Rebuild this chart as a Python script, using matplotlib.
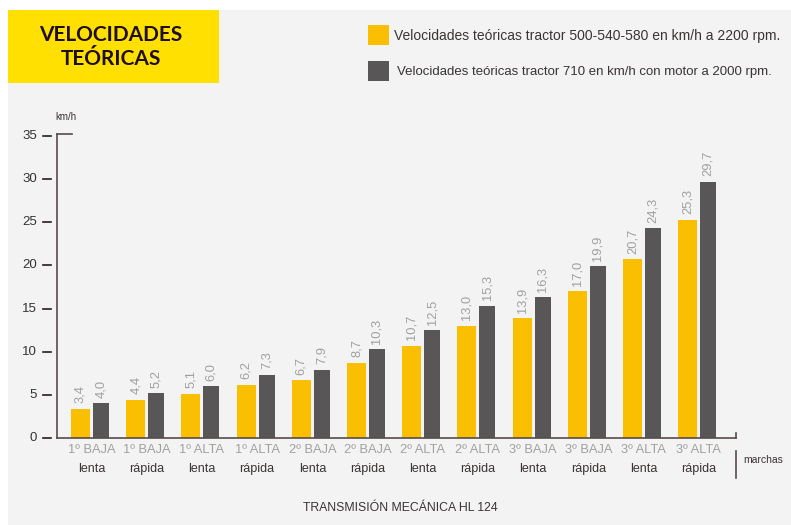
import matplotlib
matplotlib.use('Agg')
import matplotlib.pyplot as plt
from matplotlib.patches import Rectangle
from matplotlib.lines import Line2D
import matplotlib.transforms as mtransforms

# Data
marchas = ['1º BAJA', '1º BAJA', '1º ALTA', '1º ALTA', '2º BAJA', '2º BAJA',
           '2º ALTA', '2º ALTA', '3º BAJA', '3º BAJA', '3º ALTA', '3º ALTA']
modos = ['lenta', 'rápida'] * 6
v_500 = [3.4, 4.4, 5.1, 6.2, 6.7, 8.7, 10.7, 13.0, 13.9, 17.0, 20.7, 25.3]
v_710 = [4.0, 5.2, 6.0, 7.3, 7.9, 10.3, 12.5, 15.3, 16.3, 19.9, 24.3, 29.7]
y_ticks = [0, 5, 10, 15, 20, 25, 30, 35]
legend_labels = ['Velocidades teóricas tractor 500-540-580 en km/h a 2200 rpm.',
                 'Velocidades teóricas tractor 710 en km/h con motor a 2000 rpm.']

YELLOW = '#f9bf00'
GREY = '#595657'
BG = '#f3f3f3'
LABEL_GREY = '#a0a0a0'
DARK = '#3a3434'

plt.rcParams['font.family'] = ['Liberation Sans', 'DejaVu Sans']

W, H = 791, 525
fig = plt.figure(figsize=(W / 100, H / 100), dpi=100, facecolor='white')

def fx(px):
    return px / W

def fy(py):
    return 1 - py / H

# background panel and title box
fig.patches.append(Rectangle((fx(8), 0), 1, fy(10), transform=fig.transFigure,
                             facecolor=BG, edgecolor='none', zorder=-2))
fig.patches.append(Rectangle((fx(8), fy(83)), fx(219) - fx(8), fy(10) - fy(83),
                             transform=fig.transFigure, facecolor='#ffe000',
                             edgecolor='none', zorder=-1))
fig.text(fx(111), fy(47), 'VELOCIDADES\nTEÓRICAS', ha='center', va='center',
         fontsize=15, fontweight='bold', family='Lato', color='#1e0f0a',
         linespacing=1.25)

# legend
legend_sizes = [10, 9.5]
legend_x = [394, 397]
for k, (lab, col) in enumerate(zip(legend_labels, [YELLOW, GREY])):
    yc = 35 + k * 36
    fig.patches.append(Rectangle((fx(368), fy(yc + 9.5)), fx(389) - fx(368), fy(yc - 9.5) - fy(yc + 9.5),
                                 transform=fig.transFigure, facecolor=col,
                                 edgecolor='none', zorder=-1))
    fig.text(fx(legend_x[k]), fy(yc + 1), lab, ha='left', va='center',
             fontsize=legend_sizes[k], color=DARK)

# axes
ax = fig.add_axes([fx(57), fy(438), fx(736) - fx(57), fy(136) - fy(438)])
ax.set_zorder(5)
ax.patch.set_visible(False)

x = list(range(len(v_500)))
ax.bar([i - 0.2 for i in x], v_500, width=0.344, color=YELLOW, zorder=2)
ax.bar([i + 0.17 for i in x], v_710, width=0.29, color=GREY, zorder=2)

for i in x:
    for xv, v in ((i - 0.2, v_500[i]), (i + 0.17, v_710[i])):
        ax.annotate(f'{v:.1f}'.replace('.', ','), (xv, v), xytext=(0, 4),
                    textcoords='offset points', rotation=90, ha='center',
                    va='bottom', fontsize=9.3, color=LABEL_GREY)

ax.set_xlim(-0.626, 11.674)
ax.set_ylim(0, 35)

for s in ['top', 'right']:
    ax.spines[s].set_visible(False)
for s in ['left', 'bottom']:
    ax.spines[s].set_color('#5a4a4a')
    ax.spines[s].set_linewidth(1.2)
ax.spines['left'].set_bounds(0, 35.2)

ax.set_xticks([])
ax.set_yticks([])

trans_y = mtransforms.blended_transform_factory(ax.transAxes, ax.transData)
for t in y_ticks:
    ax.add_line(Line2D([-14 / 679, -6 / 679], [t, t], transform=trans_y,
                       color='#2a1a1a', lw=1.2, clip_on=False))
    ax.text(-20 / 679, t, str(t), transform=trans_y, ha='right', va='center',
            fontsize=9.5, color='#333333')

# small cap at top of y axis and end tick on x axis
ax.add_line(Line2D([0, 15 / 679], [35.2, 35.2], transform=trans_y,
                   color='#5a4a4a', lw=1.2, clip_on=False))
ax.add_line(Line2D([1, 1], [0, 0.6], transform=trans_y,
                   color='#5a4a4a', lw=1.2, clip_on=False))

trans_x = mtransforms.blended_transform_factory(ax.transData, ax.transAxes)
for i in x:
    ax.text(i, -12 / 302, marchas[i], transform=trans_x, ha='center', va='center',
            fontsize=9.3, color=LABEL_GREY)
    ax.text(i, -31 / 302, modos[i], transform=trans_x, ha='center', va='center',
            fontsize=9, color=DARK)

# separator and "marchas"
fig.add_artist(Line2D([fx(736), fx(736)], [fy(451), fy(478)], color='#5a4a4a', lw=1.2))
fig.text(fx(743), fy(460), 'marchas', ha='left', va='center', fontsize=7.5, color=DARK)
fig.text(fx(66), fy(117), 'km/h', ha='center', va='center', fontsize=7, color=DARK)
fig.text(fx(400), fy(508), 'TRANSMISIÓN MECÁNICA HL 124', ha='center', va='center',
         fontsize=8.8, color=DARK)

fig.savefig('out.png', dpi=100, facecolor='white')
